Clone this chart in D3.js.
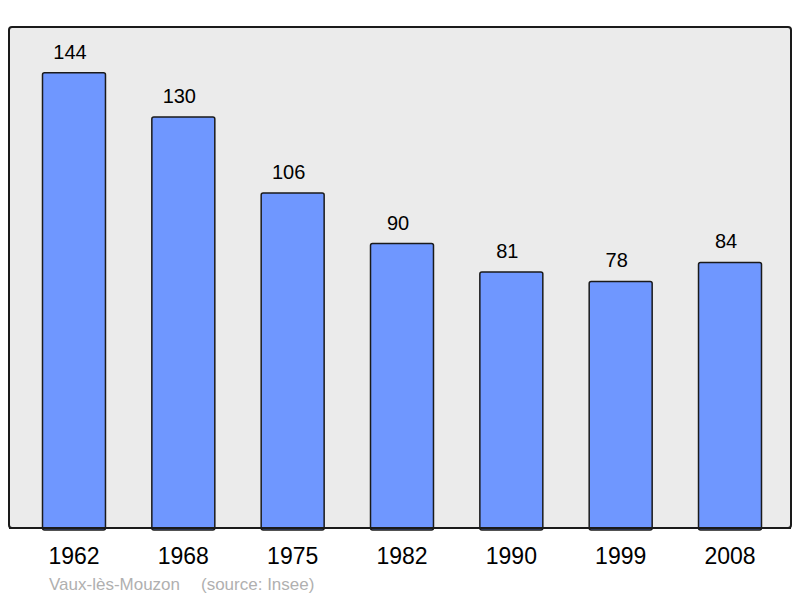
<!DOCTYPE html>
<html>
<head>
<meta charset="utf-8">
<script src="https://cdn.jsdelivr.net/npm/d3@7"></script>
<style>
  body { margin: 0; background: #fff; }
  text { font-family: "Liberation Sans", Arial, sans-serif; }
</style>
</head>
<body>
<svg id="chart" width="800" height="598"></svg>
<script>
// Data
const years = ["1962", "1968", "1975", "1982", "1990", "1999", "2008"];
const population = [144, 130, 106, 90, 81, 78, 84];
const commune = "Vaux-lès-Mouzon";
const source = "(source: Insee)";

const svg = d3.select("#chart");

const frame = { left: 9, top: 27, right: 791, bottom: 528 };

// background panel
svg.append("rect")
  .attr("x", frame.left)
  .attr("y", frame.top)
  .attr("width", frame.right - frame.left)
  .attr("height", frame.bottom - frame.top)
  .attr("rx", 3)
  .attr("fill", "#ebebeb")
  .attr("stroke", "#1a1a1a")
  .attr("stroke-width", 2);

const x = d3.scaleBand()
  .domain(years)
  .range([9.7, 794.3])
  .paddingInner(0.424)
  .paddingOuter(0.3);

const y = d3.scaleLinear()
  .domain([0, 158.5])
  .range([frame.bottom, frame.top]);

const bars = svg.append("g")
  .selectAll("g")
  .data(years.map((yr, i) => ({ year: yr, value: population[i] })))
  .enter();

bars.append("rect")
  .attr("x", d => x(d.year))
  .attr("y", d => y(d.value))
  .attr("width", x.bandwidth())
  .attr("height", d => y(0) - y(d.value) + 2)
  .attr("rx", 2)
  .attr("fill", "#6f97ff")
  .attr("stroke", "#1a1a1a")
  .attr("stroke-width", 1.5);

bars.append("text")
  .attr("x", d => x(d.year) + x.bandwidth() / 2 - 4)
  .attr("y", d => y(d.value) - 14)
  .attr("text-anchor", "middle")
  .attr("font-size", 20)
  .attr("fill", "#000")
  .text(d => d.value);

// redraw bottom edge over bars
svg.append("line")
  .attr("x1", frame.left).attr("x2", frame.right)
  .attr("y1", frame.bottom).attr("y2", frame.bottom)
  .attr("stroke", "#1a1a1a").attr("stroke-width", 2);

// x axis labels
const xAxis = d3.axisBottom(x).tickSize(0).tickPadding(20);
const gx = svg.append("g")
  .attr("transform", `translate(0,${frame.bottom})`)
  .call(xAxis);
gx.select(".domain").remove();
gx.selectAll("text")
  .attr("font-size", 23)
  .attr("fill", "#000")
  .style("font-family", "'Liberation Sans', Arial, sans-serif");

svg.append("text")
  .attr("x", 49)
  .attr("y", 590)
  .attr("font-size", 17)
  .attr("fill", "#b0b0b0")
  .text(commune);

svg.append("text")
  .attr("x", 201)
  .attr("y", 590)
  .attr("font-size", 17)
  .attr("fill", "#b0b0b0")
  .text(source);
</script>
</body>
</html>
